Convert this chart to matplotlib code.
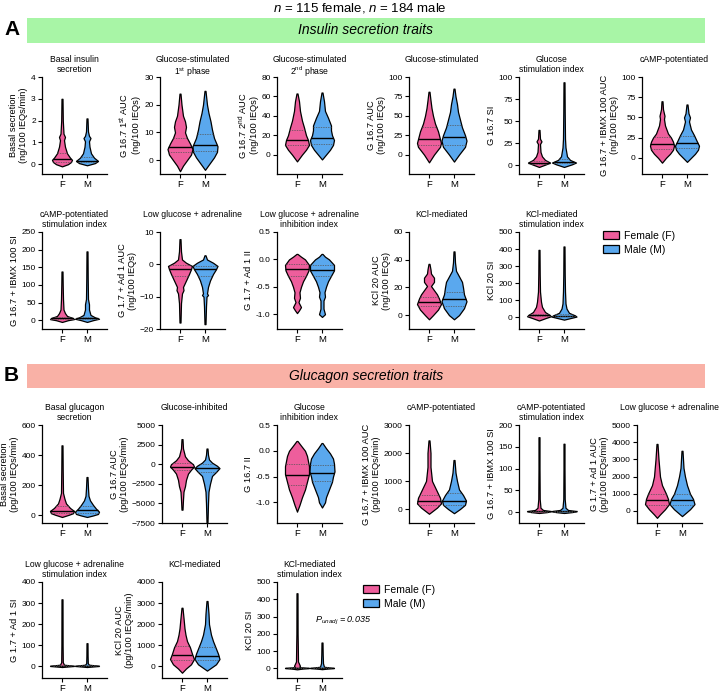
import numpy as np
import matplotlib
matplotlib.use("Agg")
import matplotlib.pyplot as plt
from matplotlib.patches import Rectangle, Patch

plt.rcParams["font.family"] = ["Liberation Sans", "DejaVu Sans"]
plt.rcParams["mathtext.fontset"] = "custom"
plt.rcParams["mathtext.rm"] = "Liberation Sans"
plt.rcParams["mathtext.it"] = "Liberation Sans:italic"
plt.rcParams["mathtext.bf"] = "Liberation Sans:bold"

# ---------------- data ----------------
groups = ["F", "M"]
legend_labels = ["Female (F)", "Male (M)"]

# Each violin: y levels (top -> bottom), relative density (half-width), median, q1, q3
# ---- Insulin ----
ins_basal_F_y = [3.0, 2.0, 1.4, 1.25, 1.1, 0.8, 0.5, 0.3, 0.2, 0.1, 0.0, -0.1]
ins_basal_F_d = [0.5, 0.8, 1.5, 3, 2, 3, 5, 8, 10, 9, 6, 0]
ins_basal_M_y = [2.1, 1.5, 1.3, 1.2, 1.05, 0.8, 0.5, 0.3, 0.15, 0.05, -0.05]
ins_basal_M_d = [0.5, 1, 2, 3.5, 2, 2.5, 4, 7, 11, 8, 0]
ins_basal_stats = [(0.25, 0.12, 0.5), (0.15, 0.08, 0.35)]

ins_p1_F_y = [24, 20, 16, 14, 12, 10, 8, 6, 4, 2, 0, -2, -4]
ins_p1_F_d = [0.5, 1.5, 3, 5, 6, 5, 7, 10, 12.5, 11, 7, 3, 0]
ins_p1_M_y = [25, 20, 17, 14, 11, 8, 5, 3, 1, -1, -3.5]
ins_p1_M_d = [0.5, 2, 3.5, 5.5, 7, 9, 12.5, 12, 9, 5, 0]
ins_p1_stats = [(4.7, 2.8, 8.0), (5.5, 3.4, 9.5)]

ins_p2_F_y = [63, 55, 45, 35, 28, 20, 15, 10, 5, 0, -7]
ins_p2_F_d = [0.5, 2, 3, 5, 7, 9, 11, 12, 9, 5, 0]
ins_p2_M_y = [64, 55, 45, 38, 30, 25, 20, 15, 10, 5, 0, -5]
ins_p2_M_d = [0.5, 2, 3, 6, 9, 9, 10, 12, 11, 8, 4, 0]
ins_p2_stats = [(15.5, 9.5, 25), (17.5, 11, 28)]

ins_gs_F_y = [81, 70, 60, 50, 40, 30, 20, 15, 10, 0, -10]
ins_gs_F_d = [0.5, 1.5, 2.5, 4, 6, 9, 11, 12, 11, 5, 0]
ins_gs_M_y = [85, 75, 65, 55, 45, 35, 25, 18, 10, 0, -9]
ins_gs_M_d = [0.5, 1.5, 3, 4, 6, 8, 11, 12.5, 11, 5, 0]
ins_gs_stats = [(20, 12, 35), (23, 13, 38)]

ins_si_F_y = [40, 30, 27, 24, 15, 10, 6, 3, 1, -2]
ins_si_F_d = [0.5, 1, 2.5, 1, 1.5, 3, 6, 11, 7, 0]
ins_si_M_y = [94, 60, 30, 20, 10, 6, 3, 1, -2]
ins_si_M_d = [0.5, 0.7, 1, 1.5, 3, 6, 12, 8, 0]
ins_si_stats = [(3, 1.5, 5), (4, 2, 7)]

ins_camp_F_y = [70, 60, 52, 48, 40, 30, 25, 20, 15, 10, 5, 0, -6]
ins_camp_F_d = [0.5, 1, 2.5, 2, 3, 6, 9, 11, 12, 11, 8, 4, 0]
ins_camp_M_y = [66, 55, 50, 45, 35, 28, 20, 15, 10, 5, 0, -5]
ins_camp_M_d = [0.5, 1.5, 3, 2, 4, 7, 10, 12, 11, 8, 4, 0]
ins_camp_stats = [(17, 11, 26), (18, 12, 27)]

ins_campsi_F_y = [138, 100, 60, 30, 20, 12, 6, 3, 0, -5]
ins_campsi_F_d = [0.5, 0.7, 1, 1.5, 3, 5, 11, 12, 6, 0]
ins_campsi_M_y = [195, 120, 60, 45, 30, 15, 8, 4, 0, -5]
ins_campsi_M_d = [0.5, 0.7, 1, 2, 2, 3.5, 8, 12, 6, 0]
ins_campsi_stats = [(5, 3, 9), (5, 3, 9)]

ins_ad_F_y = [7.8, 4, 1.5, 0.5, -0.5, -1.5, -3, -5, -7, -8, -9, -12, -18]
ins_ad_F_d = [0.5, 1, 2, 6, 12, 11, 9, 6, 3, 3.5, 2, 1, 0.5]
ins_ad_M_y = [2.8, 1.5, 0.5, -0.5, -1.5, -3, -5, -7, -9, -9.5, -10, -13, -18.5]
ins_ad_M_d = [0.5, 2, 8, 12.5, 11, 8, 5, 3, 2, 3, 1.5, 1, 0.5]
ins_ad_stats = [(-1.5, -3.5, -0.2), (-1.5, -3.5, -0.5)]

ins_adii_F_y = [0.1, 0.05, 0.0, -0.1, -0.2, -0.3, -0.4, -0.5, -0.6, -0.7, -0.78, -0.87, -0.93, -0.98]
ins_adii_F_d = [0.5, 4, 8, 12, 11.5, 9, 6, 4, 2.5, 3, 1.5, 4, 2, 0]
ins_adii_M_y = [0.1, 0.05, 0.0, -0.1, -0.2, -0.3, -0.4, -0.5, -0.6, -0.68, -0.75, -0.9, -1.0, -1.05]
ins_adii_M_d = [0.5, 3, 7, 12, 12, 9, 6, 4, 2.5, 3, 1.5, 1.5, 3, 0]
ins_adii_stats = [(-0.18, -0.3, -0.08), (-0.2, -0.3, -0.1)]

ins_kcl_F_y = [37, 33, 30, 27, 24, 21, 18, 15, 12, 8, 4, 0, -3]
ins_kcl_F_d = [0.5, 1.5, 2, 5, 5, 2, 5, 8, 10, 12, 9, 4, 0]
ins_kcl_M_y = [46, 38, 32, 28, 24, 20, 15, 10, 5, 0, -3]
ins_kcl_M_d = [0.5, 1, 2, 5, 8, 9, 10, 12.5, 10, 5, 0]
ins_kcl_stats = [(9.5, 6.5, 13), (11.5, 6.5, 17)]

ins_kclsi_F_y = [395, 250, 150, 90, 60, 30, 15, 5, -5, -20]
ins_kclsi_F_d = [0.5, 0.7, 1, 2, 3, 6, 10, 12, 7, 0]
ins_kclsi_M_y = [415, 250, 150, 80, 50, 25, 10, 3, -5, -15]
ins_kclsi_M_d = [0.5, 0.7, 1, 1.5, 2.5, 5, 11, 12.5, 7, 0]
ins_kclsi_stats = [(10, 5, 20), (8, 4, 16)]

# ---- Glucagon ----
gcg_basal_F_y = [465, 300, 150, 110, 80, 50, 30, 15, 5, -10]
gcg_basal_F_d = [0.5, 0.7, 1, 2.5, 4, 8, 12, 11, 7, 0]
gcg_basal_M_y = [255, 180, 130, 100, 70, 45, 25, 10, 0, -10]
gcg_basal_M_d = [0.5, 1, 1.5, 3, 6, 9, 12, 11, 6, 0]
gcg_basal_stats = [(30, 15, 60), (35, 18, 65)]

gcg_gi_F_y = [3200, 2000, 1000, 500, 0, -300, -700, -1200, -2000, -2800, -3500, -4500, -5800]
gcg_gi_F_d = [0.5, 1, 3, 6, 11, 12, 9, 6, 4, 3, 1.5, 1, 0.5]
gcg_gi_M_y = [2000, 1200, 600, 200, -200, -500, -1000, -1500, -2500, -3500, -5000, -7400]
gcg_gi_M_d = [0.5, 1, 2, 5, 10, 12.5, 9, 5, 3, 1.5, 1, 0.5]
gcg_gi_stats = [(-300, -800, 100), (-450, -1000, 0)]

gcg_gii_F_y = [0.19, 0.1, 0.0, -0.1, -0.2, -0.3, -0.45, -0.6, -0.75, -0.9, -1.05, -1.18]
gcg_gii_F_d = [0.5, 4, 8, 10, 11, 12, 12, 10, 8, 5, 2.5, 0]
gcg_gii_M_y = [0.15, 0.05, -0.05, -0.15, -0.25, -0.4, -0.5, -0.6, -0.75, -0.9, -1.0, -1.1]
gcg_gii_M_d = [0.5, 4, 8, 11, 12, 12.5, 11, 10, 7, 4, 3, 0]
gcg_gii_stats = [(-0.46, -0.67, -0.25), (-0.43, -0.58, -0.28)]

gcg_camp_F_y = [2450, 2000, 1500, 1000, 700, 400, 200, 50, -170]
gcg_camp_F_d = [0.5, 1.5, 1.5, 3, 7, 11, 12, 8, 0]
gcg_camp_M_y = [1750, 1300, 1000, 700, 500, 300, 150, 0, -150]
gcg_camp_M_d = [0.5, 1.5, 3, 5, 9, 12, 11, 6, 0]
gcg_camp_stats = [(270, 150, 500), (300, 150, 580)]

gcg_campsi_F_y = [172, 100, 30, 10, 5, 2, 0, -2]
gcg_campsi_F_d = [0.5, 0.5, 0.7, 1.5, 4, 12, 8, 0]
gcg_campsi_M_y = [157, 100, 30, 10, 5, 2, 0, -2]
gcg_campsi_M_d = [0.5, 0.5, 0.7, 1.5, 4, 12.5, 8, 0]
gcg_campsi_stats = [(2, 1, 3), (2, 1, 3)]

gcg_ad_F_y = [3900, 3000, 2000, 1500, 1000, 700, 400, 100, -200, -400]
gcg_ad_F_d = [0.5, 1.5, 3, 5, 9, 11, 12, 8, 3, 0]
gcg_ad_M_y = [3500, 2500, 2000, 1500, 1000, 700, 400, 100, -300]
gcg_ad_M_d = [0.5, 1.5, 3, 5, 8, 11, 12.5, 8, 0]
gcg_ad_stats = [(650, 350, 1000), (620, 350, 1000)]

gcg_adsi_F_y = [318, 100, 20, 8, 3, 0, -3]
gcg_adsi_F_d = [0.5, 0.6, 0.8, 2, 12, 6, 0]
gcg_adsi_M_y = [110, 50, 15, 8, 3, 0, -3]
gcg_adsi_M_d = [0.5, 0.6, 0.8, 2, 12, 6, 0]
gcg_adsi_stats = [(3, 1.5, 5), (3, 1.5, 5)]

gcg_kcl_F_y = [2780, 2300, 1800, 1500, 1200, 900, 600, 350, 100, -100, -300]
gcg_kcl_F_d = [0.5, 1.5, 2.5, 3.5, 5, 8, 10, 12, 9, 4, 0]
gcg_kcl_M_y = [3100, 2500, 2000, 1500, 1200, 900, 600, 350, 100, -200]
gcg_kcl_M_d = [0.5, 1.5, 2, 4, 6, 8.5, 11, 12.5, 9, 0]
gcg_kcl_stats = [(550, 300, 950), (500, 300, 900)]

gcg_kclsi_F_y = [435, 200, 130, 40, 15, 8, 3, 0, -5]
gcg_kclsi_F_d = [0.5, 0.6, 0.8, 1, 3, 2, 12, 6, 0]
gcg_kclsi_M_y = [150, 80, 30, 10, 3, 0, -4]
gcg_kclsi_M_d = [0.5, 0.7, 1, 2, 12, 6, 0]
gcg_kclsi_stats = [(3, 1.5, 6), (3, 1.5, 6)]

# ---------------- panel specs ----------------
# (title, ylabel, yticks, ylim, F(y,d), M(y,d), stats)
panels_A1 = [
    ("Basal insulin\nsecretion", "Basal secretion\n(ng/100 IEQs/min)", [0, 1, 2, 3, 4], (-0.45, 4),
     (ins_basal_F_y, ins_basal_F_d), (ins_basal_M_y, ins_basal_M_d), ins_basal_stats),
    ("Glucose-stimulated\n1$^{\\rm st}$ phase", "G 16.7 1$^{\\rm st}$ AUC\n(ng/100 IEQs)", [0, 10, 20, 30], (-5, 30),
     (ins_p1_F_y, ins_p1_F_d), (ins_p1_M_y, ins_p1_M_d), ins_p1_stats),
    ("Glucose-stimulated\n2$^{\\rm nd}$ phase", "G 16.7 2$^{\\rm nd}$ AUC\n(ng/100 IEQs)", [0, 20, 40, 60, 80], (-20, 80),
     (ins_p2_F_y, ins_p2_F_d), (ins_p2_M_y, ins_p2_M_d), ins_p2_stats),
    ("Glucose-stimulated", "G 16.7 AUC\n(ng/100 IEQs)", [0, 25, 50, 75, 100], (-25, 100),
     (ins_gs_F_y, ins_gs_F_d), (ins_gs_M_y, ins_gs_M_d), ins_gs_stats),
    ("Glucose\nstimulation index", "G 16.7 SI", [0, 25, 50, 75, 100], (-10, 100),
     (ins_si_F_y, ins_si_F_d), (ins_si_M_y, ins_si_M_d), ins_si_stats),
    ("cAMP-potentiated", "G 16.7 + IBMX 100 AUC\n(ng/100 IEQs)", [0, 25, 50, 75, 100], (-20, 100),
     (ins_camp_F_y, ins_camp_F_d), (ins_camp_M_y, ins_camp_M_d), ins_camp_stats),
]
panels_A2 = [
    ("cAMP-potentiated\nstimulation index", "G 16.7 + IBMX 100 SI", [0, 50, 100, 150, 200, 250], (-25, 250),
     (ins_campsi_F_y, ins_campsi_F_d), (ins_campsi_M_y, ins_campsi_M_d), ins_campsi_stats),
    ("Low glucose + adrenaline", "G 1.7 + Ad 1 AUC\n(ng/100 IEQs)", [-20, -10, 0, 10], (-20, 10),
     (ins_ad_F_y, ins_ad_F_d), (ins_ad_M_y, ins_ad_M_d), ins_ad_stats),
    ("Low glucose + adrenaline\ninhibition index", "G 1.7 + Ad 1 II", [-1.0, -0.5, 0.0, 0.5], (-1.27, 0.5),
     (ins_adii_F_y, ins_adii_F_d), (ins_adii_M_y, ins_adii_M_d), ins_adii_stats),
    ("KCl-mediated", "KCl 20 AUC\n(ng/100 IEQs)", [0, 20, 40, 60], (-10, 60),
     (ins_kcl_F_y, ins_kcl_F_d), (ins_kcl_M_y, ins_kcl_M_d), ins_kcl_stats),
    ("KCl-mediated\nstimulation index", "KCl 20 SI", [0, 100, 200, 300, 400, 500], (-70, 500),
     (ins_kclsi_F_y, ins_kclsi_F_d), (ins_kclsi_M_y, ins_kclsi_M_d), ins_kclsi_stats),
]
panels_B1 = [
    ("Basal glucagon\nsecretion", "Basal secretion\n(pg/100 IEQs/min)", [0, 200, 400, 600], (-50, 600),
     (gcg_basal_F_y, gcg_basal_F_d), (gcg_basal_M_y, gcg_basal_M_d), gcg_basal_stats),
    ("Glucose-inhibited", "G 16.7 AUC\n(pg/100 IEQs/min)", [-7500, -5000, -2500, 0, 2500, 5000], (-7500, 5000),
     (gcg_gi_F_y, gcg_gi_F_d), (gcg_gi_M_y, gcg_gi_M_d), gcg_gi_stats),
    ("Glucose\ninhibition index", "G 16.7 II", [-1.0, -0.5, 0.0, 0.5], (-1.4, 0.5),
     (gcg_gii_F_y, gcg_gii_F_d), (gcg_gii_M_y, gcg_gii_M_d), gcg_gii_stats),
    ("cAMP-potentiated", "G 16.7 + IBMX 100 AUC\n(pg/100 IEQs/min)", [0, 1000, 2000, 3000], (-500, 3000),
     (gcg_camp_F_y, gcg_camp_F_d), (gcg_camp_M_y, gcg_camp_M_d), gcg_camp_stats),
    ("cAMP-potentiated\nstimulation index", "G 16.7 + IBMX 100 SI", [0, 50, 100, 150, 200], (-25, 200),
     (gcg_campsi_F_y, gcg_campsi_F_d), (gcg_campsi_M_y, gcg_campsi_M_d), gcg_campsi_stats),
    ("Low glucose + adrenaline", "G 1.7 + Ad 1 AUC\n(pg/100 IEQs/min)", [0, 1000, 2000, 3000, 4000, 5000], (-700, 5000),
     (gcg_ad_F_y, gcg_ad_F_d), (gcg_ad_M_y, gcg_ad_M_d), gcg_ad_stats),
]
panels_B2 = [
    ("Low glucose + adrenaline\nstimulation index", "G 1.7 + Ad 1 SI", [0, 100, 200, 300, 400], (-55, 400),
     (gcg_adsi_F_y, gcg_adsi_F_d), (gcg_adsi_M_y, gcg_adsi_M_d), gcg_adsi_stats),
    ("KCl-mediated", "KCl 20 AUC\n(pg/100 IEQs/min)", [0, 1000, 2000, 3000, 4000], (-550, 4000),
     (gcg_kcl_F_y, gcg_kcl_F_d), (gcg_kcl_M_y, gcg_kcl_M_d), gcg_kcl_stats),
    ("KCl-mediated\nstimulation index", "KCl 20 SI", [0, 100, 200, 300, 400, 500], (-55, 500),
     (gcg_kclsi_F_y, gcg_kclsi_F_d), (gcg_kclsi_M_y, gcg_kclsi_M_d), gcg_kclsi_stats),
]

# ---------------- layout / style ----------------
W, H = 720, 694
PINK = "#EE5E9C"
BLUE = "#5AA8EE"
fig = plt.figure(figsize=(W / 100, H / 100), dpi=100)

def fx(px):
    return px / W

def fy(py):
    return 1 - py / H

rows = [
    (panels_A1, [42, 160, 277, 409, 519, 642], 77, 174),
    (panels_A2, [42, 160, 277, 409, 519], 232, 329),
    (panels_B1, [42, 162, 277, 409, 519, 637], 425, 523),
    (panels_B2, [42, 162, 277], 582, 678),
]
AXW = 65
DSCALE = 0.5 / 12.5

def draw_violin(ax, pos, ys, ds, stats, color):
    ys = np.asarray(ys, float)
    hw = np.asarray(ds, float) * DSCALE
    ax.fill_betweenx(ys, pos - hw, pos + hw, facecolor=color, edgecolor="black",
                     linewidth=0.9, zorder=2)
    med, q1, q3 = stats
    for val, ls, lw, c in ((med, "-", 1.0, "black"),
                           (q1, (0, (2, 1.5)), 0.5, "#555555"),
                           (q3, (0, (2, 1.5)), 0.5, "#555555")):
        w = np.interp(val, ys[::-1], hw[::-1])
        ax.plot([pos - w, pos + w], [val, val], color=c, lw=lw, ls=ls, zorder=3,
                solid_capstyle="butt")

for panels, lefts, top, bottom in rows:
    for (title, ylabel, yticks, ylim, Fd, Md, stats), left in zip(panels, lefts):
        ax = fig.add_axes([fx(left), fy(bottom), fx(AXW), (bottom - top) / H])
        draw_violin(ax, 0, Fd[0], Fd[1], stats[0], PINK)
        draw_violin(ax, 1, Md[0], Md[1], stats[1], BLUE)
        ax.set_xlim(-0.8, 1.8)
        ax.set_ylim(*ylim)
        ax.set_yticks(yticks)
        if isinstance(yticks[0], float):
            ax.set_yticklabels([f"{t:.1f}" for t in yticks])
        ax.set_xticks([0, 1])
        ax.set_xticklabels(groups)
        for s in ("top", "right"):
            ax.spines[s].set_visible(False)
        for s in ("left", "bottom"):
            ax.spines[s].set_linewidth(0.9)
        ax.tick_params(axis="both", direction="out", length=3, width=0.8, pad=1.5)
        ax.tick_params(axis="y", labelsize=6)
        ax.tick_params(axis="x", labelsize=6.8, pad=1)
        ax.set_ylabel(ylabel, fontsize=6.7, labelpad=2, linespacing=1.15)
        fig.text(fx(left + AXW / 2), fy(top - 22), title, ha="center", va="top",
                 fontsize=6.2, linespacing=1.1)

# banners
for (y0, y1, col, txt, letter) in ((18, 43, "#A8F5A6", "Insulin secretion traits", "A"),
                                   (364, 388, "#F9B1A6", "Glucagon secretion traits", "B")):
    fig.patches.append(Rectangle((fx(27), fy(y1)), fx(705) - fx(27), fy(y0) - fy(y1),
                                 transform=fig.transFigure, facecolor=col, edgecolor="none",
                                 zorder=0))
    fig.text(fx(366), fy((y0 + y1) / 2), txt, ha="center", va="center", fontsize=10,
             style="italic")
    fig.text(fx(4), fy((y0 + y1) / 2 - 1), letter, ha="left", va="center", fontsize=15,
             fontweight="bold")

fig.text(0.5, fy(8), "$\\it{n}$ = 115 female, $\\it{n}$ = 184 male", ha="center",
         va="center", fontsize=9.5)

handles = [Patch(facecolor=PINK, edgecolor="black", linewidth=0.9),
           Patch(facecolor=BLUE, edgecolor="black", linewidth=0.9)]
for (x, y) in ((603, 231), (363, 585)):
    fig.legend(handles, legend_labels, loc="upper left", bbox_to_anchor=(fx(x), fy(y)),
               frameon=False, fontsize=7.5, handlelength=1.5, handleheight=0.8,
               handletextpad=0.5, labelspacing=0.35, borderpad=0, borderaxespad=0)

fig.text(fx(315), fy(621), "$\\it{P}_{\\it{unadj}}$ = 0.035", ha="left", va="center",
         fontsize=6.5, style="italic")

fig.savefig("out.png", dpi=100)
